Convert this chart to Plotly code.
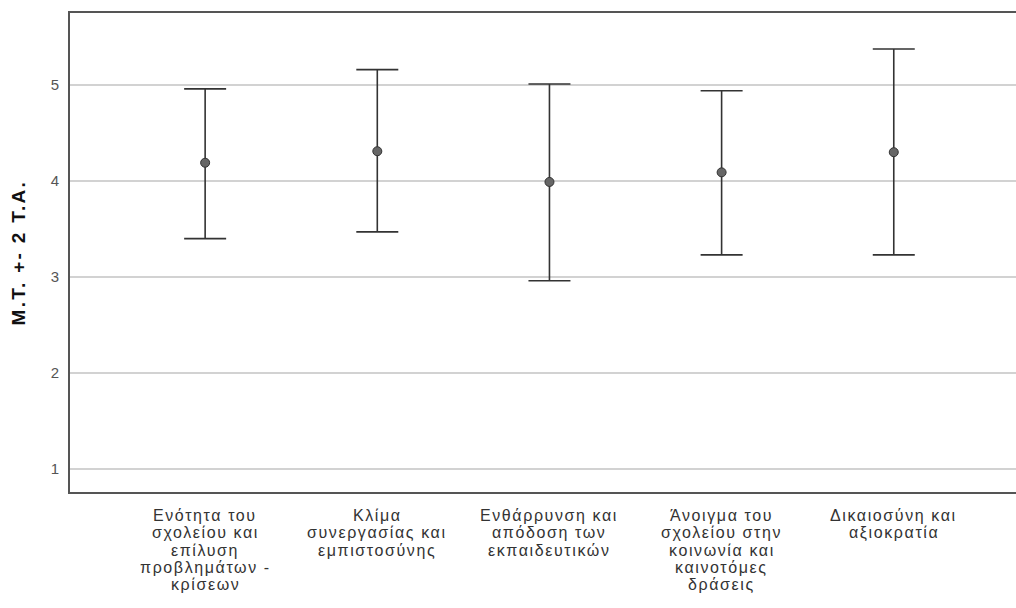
import plotly.graph_objects as go

categories = [
    "Ενότητα του<br>σχολείου και<br>επίλυση<br>προβλημάτων -<br>κρίσεων",
    "Κλίμα<br>συνεργασίας και<br>εμπιστοσύνης",
    "Ενθάρρυνση και<br>απόδοση των<br>εκπαιδευτικών",
    "Άνοιγμα του<br>σχολείου στην<br>κοινωνία και<br>καινοτόμες<br>δράσεις",
    "Δικαιοσύνη και<br>αξιοκρατία",
]
means = [4.19, 4.31, 3.99, 4.09, 4.30]
upper = [4.96, 5.16, 5.01, 4.94, 5.375]
lower = [3.40, 3.47, 2.96, 3.23, 3.23]
y_title = "M.T. +- 2 T.A."
y_ticks = [1, 2, 3, 4, 5]

x_pos = list(range(len(categories)))
err_plus = [u - m for u, m in zip(upper, means)]
err_minus = [m - l for m, l in zip(means, lower)]

FONT = "Liberation Sans, Arial, sans-serif"
X_RANGE = [-0.785, 4.71]

fig = go.Figure()
fig.add_trace(go.Scatter(
    x=x_pos, y=means, mode="markers",
    marker=dict(size=9, color="#666666", line=dict(color="#333333", width=1)),
    error_y=dict(type="data", symmetric=False, array=err_plus, arrayminus=err_minus,
                 color="#333333", thickness=1.6, width=21),
    showlegend=False, cliponaxis=False, hoverinfo="skip",
))

# Multi-line category labels with tight line spacing
annotations = []
for i, lab in enumerate(categories):
    for k, line in enumerate(lab.split("<br>")):
        annotations.append(dict(
            x=i, xref="x", y=0, yref="paper", yanchor="top", xanchor="center",
            yshift=-(13 + 17.3 * k), showarrow=False,
            text='<span style="letter-spacing:1.6px">' + line + "</span>",
            font=dict(family=FONT, size=16, color="#333333"),
        ))
annotations.append(dict(
    x=0, xref="paper", y=0.5, yref="paper", xanchor="center", yanchor="middle",
    xshift=-52, showarrow=False, textangle=-90,
    text='<span style="letter-spacing:2.3px"><b>' + y_title + "</b></span>",
    font=dict(family=FONT, size=19, color="#111111"),
))

fig.update_layout(
    width=1016, height=608,
    margin=dict(l=70, r=0, t=13, b=116),
    paper_bgcolor="white", plot_bgcolor="white",
    font=dict(family=FONT, size=14, color="#333333"),
    annotations=annotations,
    xaxis=dict(
        tickmode="array", tickvals=x_pos, showticklabels=False,
        range=X_RANGE, showgrid=False, zeroline=False, automargin=False,
        showline=True, linecolor="#555555", linewidth=2, mirror=True, ticks="",
    ),
    yaxis=dict(
        range=[0.76, 5.75], tickvals=y_ticks, automargin=False,
        showgrid=True, gridcolor="#d2d2d2", gridwidth=1.5, zeroline=False,
        showline=True, linecolor="#555555", linewidth=2, mirror=False,
        ticks="", tickfont=dict(family=FONT, size=15, color="#555555"), ticklabelstandoff=6,
    ),
)

fig.write_html(
    "out.html",
    config={"displayModeBar": False},
    post_script="document.body.style.margin='0';document.body.style.overflow='hidden';",
)
